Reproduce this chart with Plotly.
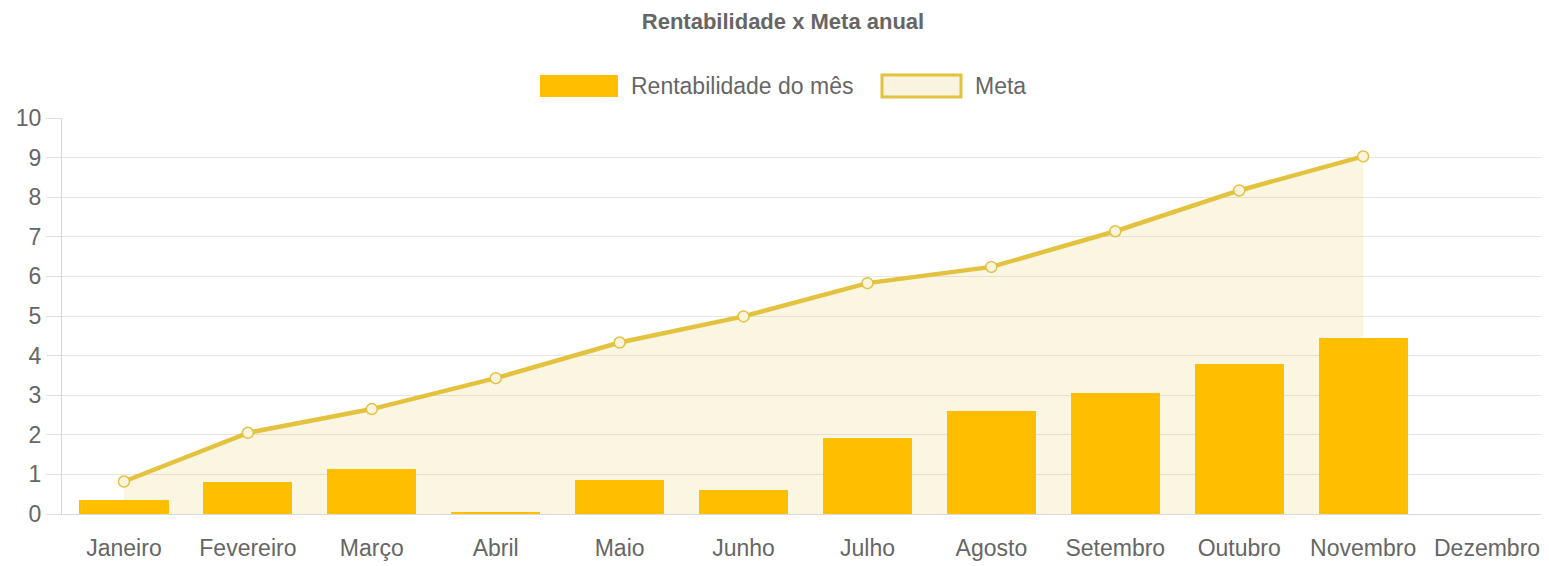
import plotly.graph_objects as go

meses = ["Janeiro", "Fevereiro", "Março", "Abril", "Maio", "Junho", "Julho",
         "Agosto", "Setembro", "Outubro", "Novembro", "Dezembro"]
rentabilidade = [0.35, 0.81, 1.13, 0.06, 0.85, 0.60, 1.93, 2.61, 3.06, 3.78, 4.44, None]
meta = [0.82, 2.05, 2.65, 3.43, 4.33, 4.99, 5.83, 6.24, 7.14, 8.17, 9.03]
y_ticks = list(range(0, 11))

# the page body has an 8px margin; the figure is sized so it fills the window
OFF = 8
W, H = 1549 - OFF, 566 - OFF
L, R, T, B = 62 - OFF, 0, 118 - OFF, 52
PW, PH = W - L - R, H - T - B

BAR = "#FFBF00"
LINE = "#E2C23E"
FILL = "rgba(226,194,62,0.15)"
TXT = "#666666"
FONT = "Liberation Sans, Arial, Helvetica, sans-serif"
FS = 23


def px(x):
    return (x - OFF - L) / PW


def py(y):
    return (H - B - (y - OFF)) / PH


fig = go.Figure()

fig.add_trace(go.Scatter(
    x=meses[:len(meta)], y=meta, name="Meta",
    mode="lines+markers", fill="tozeroy", fillcolor=FILL,
    line=dict(color=LINE, width=4.5),
    marker=dict(symbol="circle", size=11, color="rgba(250,243,222,1)",
                line=dict(color=LINE, width=1.5)),
    yaxis="y", showlegend=False,
))

fig.add_trace(go.Bar(
    x=meses, y=rentabilidade, name="Rentabilidade do mês",
    marker=dict(color=BAR, line=dict(width=0)), width=0.72,
    yaxis="y2", showlegend=False,
))

shapes = [
    dict(type="rect", xref="paper", yref="paper",
         x0=px(540), x1=px(618), y0=py(75), y1=py(97),
         fillcolor=BAR, line=dict(width=0)),
    dict(type="rect", xref="paper", yref="paper",
         x0=px(882), x1=px(961), y0=py(75), y1=py(97),
         fillcolor="#FAF3DF", line=dict(color=LINE, width=3)),
]
annotations = [
    dict(text="Rentabilidade do mês", xref="paper", yref="paper",
         x=px(629), y=py(86), xanchor="left", yanchor="middle",
         showarrow=False, font=dict(family=FONT, size=FS, color=TXT)),
    dict(text="Meta", xref="paper", yref="paper",
         x=px(973), y=py(86), xanchor="left", yanchor="middle",
         showarrow=False, font=dict(family=FONT, size=FS, color=TXT)),
]

fig.update_layout(
    width=W, height=H,
    margin=dict(l=L, r=R, t=T, b=B, pad=0),
    paper_bgcolor="white", plot_bgcolor="white",
    showlegend=False,
    title=dict(text="<b>Rentabilidade x Meta anual</b>",
               x=((632 + 934) / 2 - OFF) / W, xanchor="center",
               y=1 - (21 - OFF) / H, yanchor="middle", yref="container",
               font=dict(family=FONT, size=22, color=TXT)),
    xaxis=dict(type="category", categoryarray=meses, categoryorder="array",
               range=[-0.5, 11.5], showgrid=False, zeroline=False,
               showline=True, linecolor="#d9d9d9", linewidth=1,
               ticks="", ticklabelstandoff=13,
               tickfont=dict(family=FONT, size=FS, color=TXT)),
    yaxis=dict(range=[0, 10], tickvals=y_ticks, showgrid=True,
               gridcolor="#e6e6e6", gridwidth=1, zeroline=False,
               showline=True, linecolor="#d9d9d9", linewidth=1,
               ticks="outside", ticklen=15, tickcolor="#e0e0e0",
               tickfont=dict(family=FONT, size=FS, color=TXT)),
    yaxis2=dict(range=[0, 10], overlaying="y", visible=False,
                showgrid=False, zeroline=False),
    shapes=shapes, annotations=annotations,
    bargap=0,
)

fig.write_html("out.html")
